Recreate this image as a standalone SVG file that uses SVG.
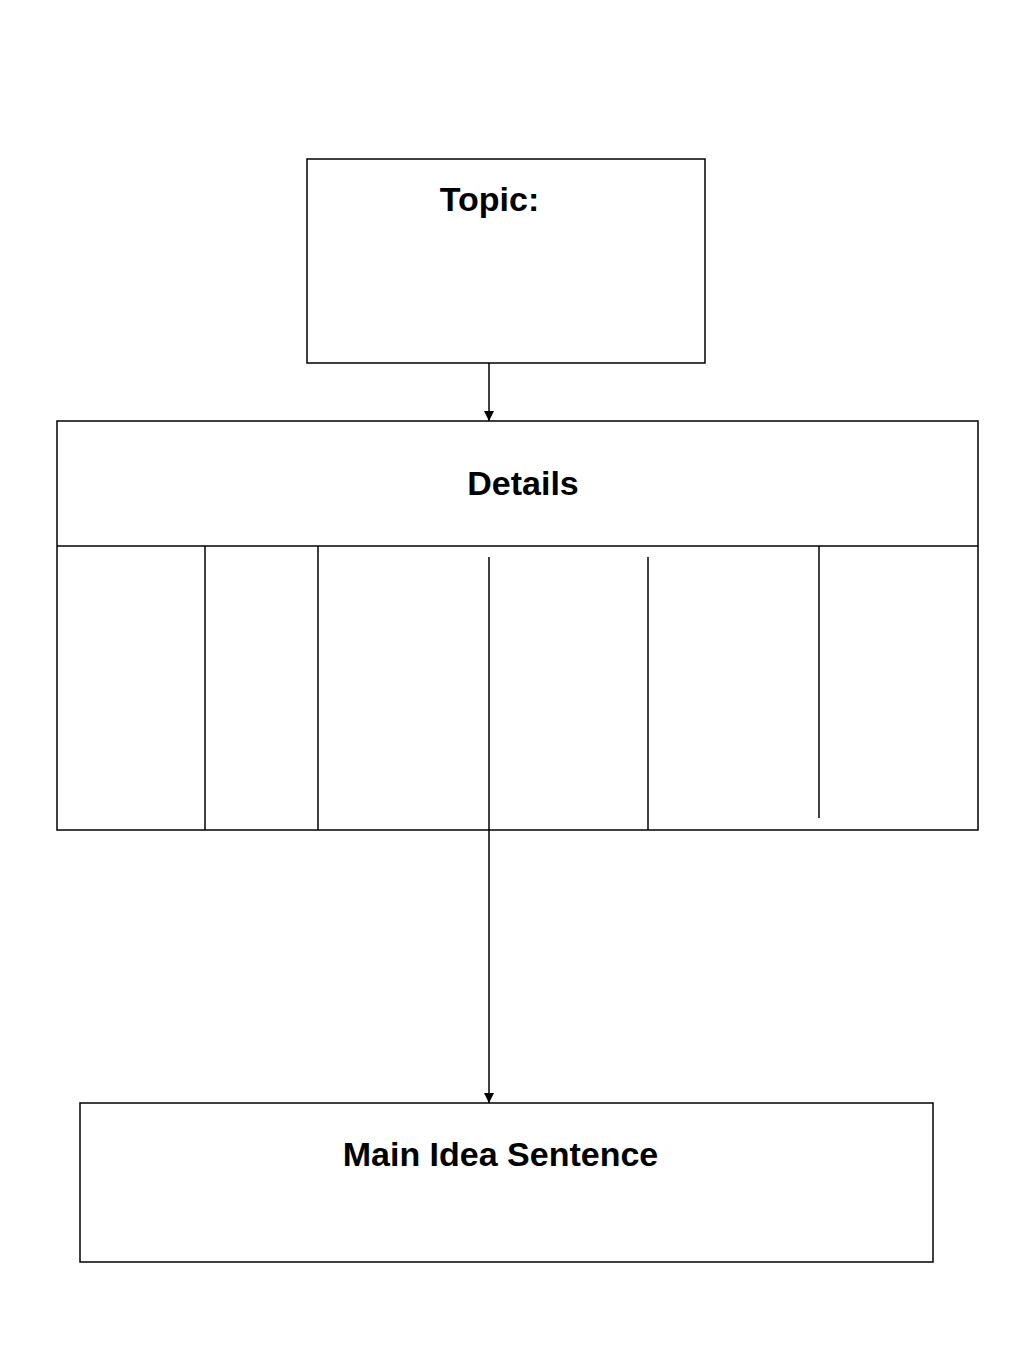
<svg xmlns="http://www.w3.org/2000/svg" width="1024" height="1365" viewBox="0 0 1024 1365">
<style>
.box{fill:#fff;stroke:#000;stroke-width:1.5}
.ln{stroke:#000;stroke-width:1.5;fill:none}
.lbl{font-family:"Liberation Sans",Arial,sans-serif;font-weight:bold;font-size:34px;fill:#000}
</style>
<defs>
<marker id="ah" viewBox="0 0 10 10" refX="10" refY="5" markerWidth="10" markerHeight="10" markerUnits="userSpaceOnUse" orient="auto">
<path d="M0,0 L10,5 L0,10 z" fill="#000"/>
</marker>
</defs>
<rect width="1024" height="1365" fill="#fff"/>
<g id="topic">
<rect class="box" x="307" y="159" width="398" height="204"/>
<text class="lbl" x="489.5" y="211" text-anchor="middle">Topic:</text>
</g>
<g id="details">
<rect class="box" x="57" y="421" width="921" height="409"/>
<line class="ln" x1="57" y1="546" x2="978" y2="546"/>
<line class="ln" x1="205" y1="546" x2="205" y2="830"/>
<line class="ln" x1="318" y1="546" x2="318" y2="830"/>
<line class="ln" x1="648" y1="557" x2="648" y2="830"/>
<line class="ln" x1="819" y1="546" x2="819" y2="818"/>
<text class="lbl" x="523" y="495" text-anchor="middle">Details</text>
</g>
<g id="main">
<rect class="box" x="80" y="1103" width="853" height="159"/>
<text class="lbl" x="500.5" y="1166" text-anchor="middle">Main Idea Sentence</text>
</g>
<g id="connectors">
<line class="ln" x1="489" y1="363" x2="489" y2="421" marker-end="url(#ah)"/>
<line class="ln" x1="489" y1="557" x2="489" y2="1103" marker-end="url(#ah)"/>
</g>
</svg>
